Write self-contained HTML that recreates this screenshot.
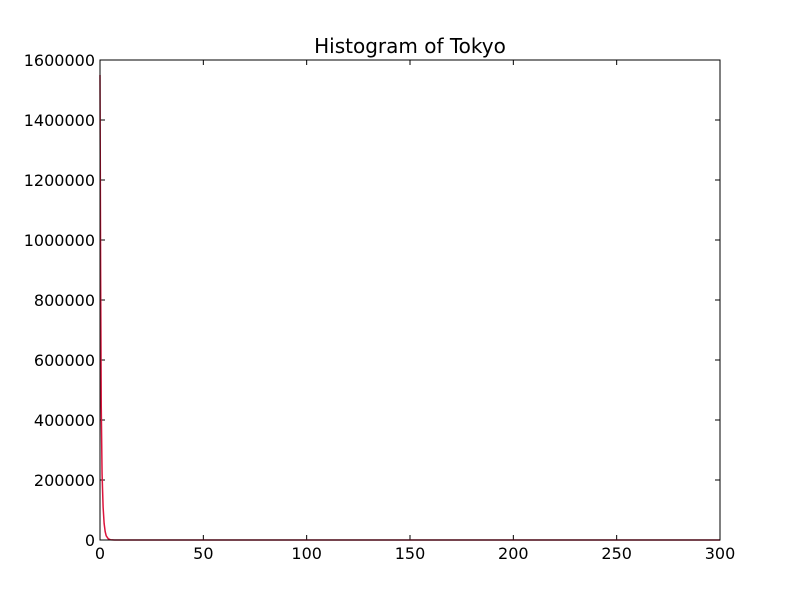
<!DOCTYPE html>
<html><head><meta charset="utf-8"><style>
body{margin:0;background:#fff}
svg text{font-family:"DejaVu Sans","Liberation Sans",sans-serif;font-size:16px}
</style></head><body>
<svg id="chart" width="800" height="600">
<rect x="0" y="0" width="800" height="600" fill="#fff"/>
<text x="410" y="53" text-anchor="middle" style="font-size:20px">Histogram of Tokyo</text>
<g id="ticks"></g>
<path id="curve" fill="none" stroke="#dc143c" stroke-width="1.5"/>
<rect x="100" y="60" width="620" height="480" fill="none" stroke="#000" stroke-width="1"/>
</svg>
<script>
const xs = [0,0.3,0.6,1,1.5,2,2.5,3,4,5,7,10,300];
const ys = [1550000,900000,450000,220000,110000,55000,28000,14000,4000,1000,200,0,0];
const xTicks = [0,50,100,150,200,250,300];
const yTicks = [0,200000,400000,600000,800000,1000000,1200000,1400000,1600000];
const X = v => 100 + v/300*620;
const Y = v => 540 - v/1600000*480;
const ns = "http://www.w3.org/2000/svg";
const g = document.getElementById('ticks');
function mk(t,a){const e=document.createElementNS(ns,t);for(const k in a)e.setAttribute(k,a[k]);g.appendChild(e);return e;}
xTicks.forEach(t=>{
  const l1=mk('line',{x1:X(t),x2:X(t),y1:540,y2:535,stroke:'#000'});
  
  
  const l2=mk('line',{x1:X(t),x2:X(t),y1:60,y2:65,stroke:'#000'});
  
  
  const tx=mk('text',{x:X(t),y:559,'text-anchor':'middle'});tx.textContent=t;
  
  
});
yTicks.forEach(t=>{
  const l1=mk('line',{x1:100,x2:105,y1:Y(t),y2:Y(t),stroke:'#000'});
  
  
  const l2=mk('line',{x1:715,x2:720,y1:Y(t),y2:Y(t),stroke:'#000'});
  
  
  const tx=mk('text',{x:95,y:Y(t)+6,'text-anchor':'end'});tx.textContent=t;
  
  
});
document.getElementById('curve').setAttribute('d', xs.map((v,i)=>(i?'L':'M')+X(v).toFixed(2)+' '+Y(ys[i]).toFixed(2)).join(' '));
</script>
</body></html>
